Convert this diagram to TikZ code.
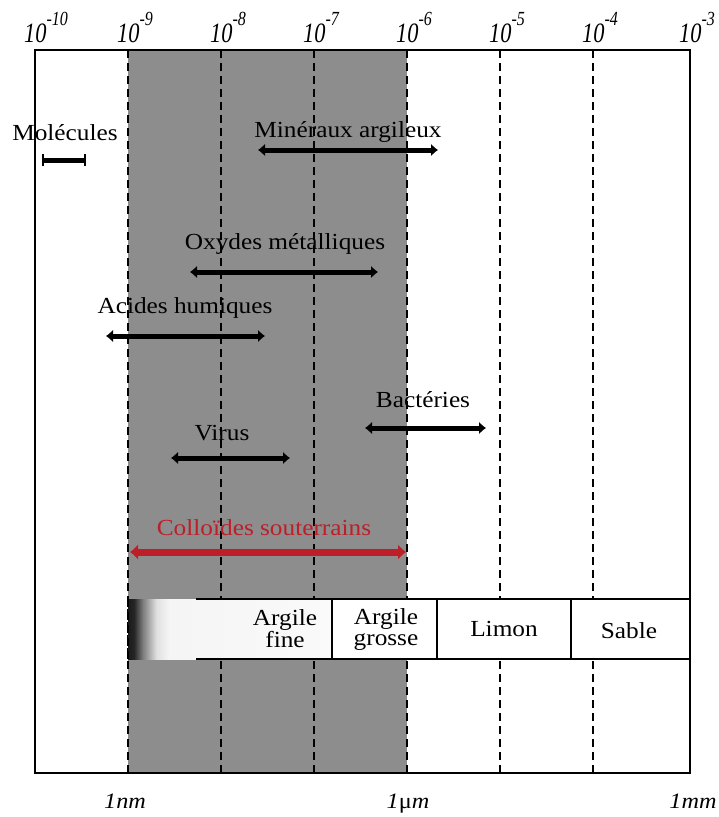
\documentclass[tikz,border=0pt]{standalone}
\usepackage{fontspec}
\setmainfont[FakeStretch=1.1]{Liberation Serif}
\newfontfamily\tenfont[FakeStretch=0.8]{Liberation Serif}
\usetikzlibrary{arrows.meta}
\definecolor{bandgray}{RGB}{141,141,141}
\definecolor{colred}{RGB}{190,30,40}
\pgfdeclarehorizontalshading{clayfade}{100bp}{color(0bp)=(black); color(25bp)=(black!90); color(26.5bp)=(black!85); color(28.7bp)=(black!50); color(32bp)=(black!12); color(35bp)=(black!4); color(75bp)=(black!2); color(100bp)=(black!2)}

\begin{document}
\begin{tikzpicture}[x=1pt,y=-1pt,
	sizebar/.style={line width=5pt,{Latex[length=7pt,width=13pt]}-{Latex[length=7pt,width=13pt]}},
	lbl/.style={anchor=base,inner sep=0pt,font=\fontsize{23}{25}\selectfont},
	grid/.style={line width=1.8pt,dash pattern=on 8pt off 5pt}]
	\useasboundingbox (0,0) rectangle (718,817);

	% colloid band
	\fill[bandgray] (128,50) rectangle (407,773);
	\foreach \x in {128,221,314,407,500,593}
		\draw[grid] (\x,50) -- (\x,773);

	% decades
	\foreach \x/\e in {35/-10,128/-9,221/-8,314/-7,407/-6,500/-5,593/-4,690/-3}
		\node[anchor=base west,inner sep=0pt,font=\tenfont\itshape\fontsize{28}{28}\selectfont] (d\x) at (\x-11,42) {10\raisebox{17pt}{\fontsize{20}{20}\selectfont\e}};
	\node[lbl,font=\fontsize{22}{24}\selectfont\itshape] (nm) at (125,808) {1nm};
	\node[lbl,font=\fontsize{22}{24}\selectfont\itshape] (um) at (408,808) {1\textup{μ}m};
	\node[lbl,font=\fontsize{22}{24}\selectfont\itshape] (mm) at (693,808) {1mm};

	% ranges
	\coordinate (mol-l) at (42,160);  \coordinate (mol-r) at (86,160);
	\coordinate (min-l) at (258,150); \coordinate (min-r) at (438,150);
	\coordinate (oxy-l) at (190,272); \coordinate (oxy-r) at (378,272);
	\coordinate (hum-l) at (106,336); \coordinate (hum-r) at (265,336);
	\coordinate (bac-l) at (365,428); \coordinate (bac-r) at (486,428);
	\coordinate (vir-l) at (171,458); \coordinate (vir-r) at (290,458);
	\coordinate (col-l) at (130,552); \coordinate (col-r) at (406,552);

	\draw[line width=5pt,{Bar[width=12pt,line width=2pt]}-{Bar[width=12pt,line width=2pt]}] (mol-l) -- (mol-r);
	\draw[sizebar] (min-l) -- (min-r);
	\draw[sizebar] (oxy-l) -- (oxy-r);
	\draw[sizebar] (hum-l) -- (hum-r);
	\draw[sizebar] (bac-l) -- (bac-r);
	\draw[sizebar] (vir-l) -- (vir-r);
	\draw[colred,line width=7pt,{Latex[length=8pt,width=16pt]}-{Latex[length=8pt,width=16pt]}] (col-l) -- (col-r);

	\node[lbl] (mol) at (65,140) {Molécules};
	\node[lbl] (min) at (348,137) {Minéraux argileux};
	\node[lbl] (oxy) at (285,249) {Oxydes métalliques};
	\node[lbl] (hum) at (185,313) {Acides humiques};
	\node[lbl] (bac) at (423,407) {Bactéries};
	\node[lbl] (vir) at (222,440) {Virus};
	\node[lbl,text=colred] (col) at (264,535) {Colloïdes souterrains};

	% size classes
	\fill[white] (128,599) rectangle (690,659);
	\shade[shading=clayfade] (128,599) rectangle (332,659);
	\draw[line width=2pt] (196,599) -- (690,599) (196,659) -- (690,659);
	\foreach \x in {332,437,571}
		\draw[line width=2pt] (\x,599) -- (\x,659);
	\draw[grid] (128,599) -- (128,659);
	\node[lbl,anchor=center,align=center,font=\fontsize{23}{21}\selectfont] (af) at (285,629) {Argile\\fine};
	\node[lbl,anchor=center,align=center,font=\fontsize{23}{21}\selectfont] (ag) at (386,629) {Argile\\grosse};
	\node[lbl,anchor=center] (lim) at (504,629) {Limon};
	\node[lbl,anchor=center] (sab) at (629,631) {Sable};

	\draw[line width=2pt] (35,50) rectangle (690,773);
\end{tikzpicture}
\end{document}
